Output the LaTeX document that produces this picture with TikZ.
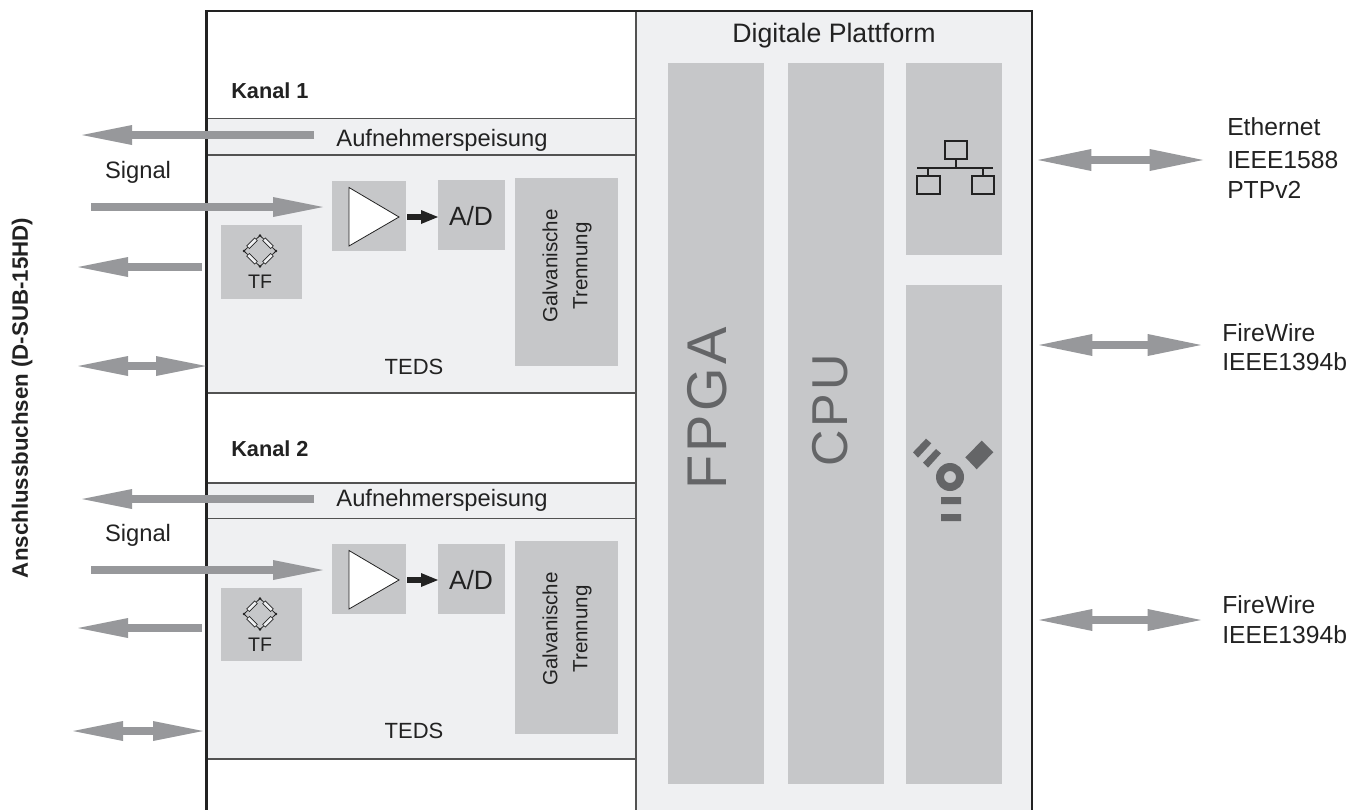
\documentclass[tikz,border=0pt]{standalone}
\usepackage{fontspec}
\setmainfont{Liberation Sans}
\usetikzlibrary{arrows.meta}
\definecolor{panel}{HTML}{EFF0F2}
\definecolor{blockc}{HTML}{C6C7C9}
\definecolor{arrowc}{HTML}{97989B}
\definecolor{iconc}{HTML}{646567}
\definecolor{txt}{HTML}{222222}
\newcommand\sz[1]{\fontsize{#1}{#1}\selectfont}
\newcommand\blk[5]{\node[blockbox,minimum width={(#4-#2)*0.75pt},minimum height={(#5-#3)*0.75pt}] (#1) at (#2,#3) {};}
\tikzset{
 x=0.75pt,y=-0.75pt,
 blockbox/.style={fill=blockc,draw=none,inner sep=0,outer sep=0,anchor=north west},
 lab/.style={inner sep=0,text=txt,anchor=base,font=\sz{17.8}},
 sidelab/.style={lab,anchor=base west,font=\sz{18.5}},
 kanal/.style={lab,anchor=base west,font=\bfseries\sz{16.3}},
 gal/.style={inner sep=0,text=txt,text width=100pt,align=center,rotate=90,font=\fontsize{15.4}{22.5}\selectfont},
 bigt/.style={inner sep=0,text=iconc,rotate=90},
 lhead/.tip={Triangle[length=37.5pt,width=15pt,line width=0pt,fill=arrowc]},
 rhead/.tip={Triangle[length=40pt,width=16.5pt,line width=0pt,fill=arrowc]},
 flow/.style={draw=arrowc,line width=6pt,-lhead},
 flowtwo/.style={draw=arrowc,line width=6pt,lhead-lhead},
 flowext/.style={draw=arrowc,line width=6pt,rhead-rhead},
 conv/.style={draw=txt,line width=4.5pt,-{Triangle[length=12.75pt,width=10.5pt,line width=0pt,fill=txt]}},
 rule/.style={draw=black!68,line width=1.1pt},
 res/.style={draw=txt,fill=panel,line width=.5pt,minimum width=8.5pt,minimum height=2.8pt,inner sep=0},
}
\newcommand\bridge[2]{%
 \begin{scope}[shift={(#1,#2)}]
 \draw[txt,line width=.6pt] (0,-15.5) -- (16,0) -- (0,15.5) -- (-16,0) -- cycle;
 \fill[txt] (0,-15.5) circle (1pt) (16,0) circle (1pt) (0,15.5) circle (1pt) (-16,0) circle (1pt);
 \node[res,rotate=-45] at (8,-7.75) {};
 \node[res,rotate=45] at (-8,-7.75) {};
 \node[res,rotate=45] at (8,7.75) {};
 \node[res,rotate=-45] at (-8,7.75) {};
 \end{scope}}
\begin{document}
\begin{tikzpicture}
\useasboundingbox (0,0) rectangle (1364,810);
\fill[white] (0,0) rectangle (1364,810);
% panels
\fill[panel] (636,11) rectangle (1032,810);
\fill[panel] (207,118) rectangle (636,393);
\fill[panel] (207,483) rectangle (636,759);
% digital blocks
\blk{fpga}{668}{63}{764}{784}
\blk{cpu}{788}{63}{884}{784}
\blk{net}{906}{63}{1002}{255}
\blk{fw}{906}{285}{1002}{784}
% channel 1
\blk{ampA}{332}{181}{406}{251}
\blk{adA}{438}{180}{505}{250}
\blk{galA}{515}{178}{618}{366}
\blk{tfA}{221}{225}{302}{299}
% channel 2
\blk{ampB}{332}{544}{406}{614}
\blk{adB}{438}{544}{505}{614}
\blk{galB}{515}{541}{618}{734}
\blk{tfB}{221}{588}{302}{661}
% rules
\draw[rule] (207,118.5) -- (636,118.5);
\draw[rule] (207,155) -- (636,155);
\draw[rule] (207,393) -- (636,393);
\draw[rule] (207,483) -- (636,483);
\draw[rule] (207,518.5) -- (636,518.5);
\draw[rule] (207,759) -- (636,759);
\draw[rule] (636,11) -- (636,810);
\draw[draw=txt,line width=1.9pt] (206.5,810) -- (206.5,11) -- (1032,11) -- (1032,810);
% amplifiers
\foreach \d in {0,363}{
 \draw[fill=white,draw=txt,line width=.6pt] (349,187.5+\d) -- (349,246+\d) -- (399,217+\d) -- cycle;
}
\coordinate (aoA) at (407,217); \coordinate (aiA) at (438,217);
\coordinate (aoB) at (407,580); \coordinate (aiB) at (438,580);
\draw[conv] (aoA) -- (aiA);
\draw[conv] (aoB) -- (aiB);
\bridge{260}{251}
\bridge{260}{614}
% labels
\node[lab,font=\sz{20}] (dp) at (834,42) {Digitale Plattform};
\node[kanal] (kanalA) at (231,98) {Kanal 1};
\node[kanal] (kanalB) at (231,456) {Kanal 2};
\node[lab] (aufA) at (442,146) {Aufnehmerspeisung};
\node[lab] (aufB) at (442,506) {Aufnehmerspeisung};
\node[lab] (sigA) at (138,178) {Signal};
\node[lab] (sigB) at (138,541) {Signal};
\node[lab,font=\sz{19.8}] (adtA) at (471,225) {A/D};
\node[lab,font=\sz{19.8}] (adtB) at (471,589) {A/D};
\node[gal] (gtA) at (567,266) {Galvanische\\Trennung};
\node[gal] (gtB) at (567,629) {Galvanische\\Trennung};
\node[lab,font=\sz{14.7}] (tfa) at (260,288) {TF};
\node[lab,font=\sz{14.7}] (tfb) at (260,651) {TF};
\node[lab,font=\sz{16.5}] (tedsA) at (414,374) {TEDS};
\node[lab,font=\sz{16.5}] (tedsB) at (414,738) {TEDS};
\node[bigt,font=\sz{42}\addfontfeature{LetterSpace=6}] (fpgat) at (707,408.5) {FPGA};
\node[bigt,font=\sz{37.8}\addfontfeature{LetterSpace=6}] (cput) at (830,410.5) {CPU};
\node[inner sep=0,text=txt,font=\bfseries\sz{16.7},rotate=90] (ans) at (22,398) {Anschlussbuchsen (D-SUB-15HD)};
\node[sidelab] (e1) at (1227,135) {Ethernet};
\node[sidelab] (e2) at (1227,168) {IEEE1588};
\node[sidelab] (e3) at (1227,198) {PTPv2};
\node[sidelab] (f1) at (1222,341) {FireWire};
\node[sidelab] (f2) at (1222,370) {IEEE1394b};
\node[sidelab] (g1) at (1222,613) {FireWire};
\node[sidelab] (g2) at (1222,643) {IEEE1394b};
% connectors
\coordinate (a1) at (314,135); \coordinate (a1e) at (82,135);
\coordinate (a2) at (91,207); \coordinate (a2e) at (323,207);
\coordinate (a3) at (202,267); \coordinate (a3e) at (78,267);
\coordinate (a4) at (78,366); \coordinate (a4e) at (206,366);
\coordinate (b1) at (314,499); \coordinate (b1e) at (82,499);
\coordinate (b2) at (91,570); \coordinate (b2e) at (323,570);
\coordinate (b3) at (202,628); \coordinate (b3e) at (78,628);
\coordinate (b4) at (73,731); \coordinate (b4e) at (203,731);
\coordinate (r1) at (1038,160); \coordinate (r1e) at (1203,160);
\coordinate (r2) at (1039,345); \coordinate (r2e) at (1201,345);
\coordinate (r3) at (1039,620); \coordinate (r3e) at (1201,620);
\draw[flow] (a1) -- (a1e);
\draw[flow] (a2) -- (a2e);
\draw[flow] (a3) -- (a3e);
\draw[flowtwo] (a4) -- (a4e);
\draw[flow] (b1) -- (b1e);
\draw[flow] (b2) -- (b2e);
\draw[flow] (b3) -- (b3e);
\draw[flowtwo] (b4) -- (b4e);
\draw[flowext] (r1) -- (r1e);
\draw[flowext] (r2) -- (r2e);
\draw[flowext] (r3) -- (r3e);
% network icon
\draw[txt,line width=1.3pt] (945,141) rectangle (967,159) (917,176) rectangle (940,194) (972,176) rectangle (994,194);
\draw[txt,line width=1.3pt] (917,168) -- (993,168) (956,159) -- (956,168) (928,168) -- (928,176) (983,168) -- (983,176);
% firewire icon
\fill[iconc,even odd rule] (950,477) circle (10.5pt) circle (4.5pt);
\fill[iconc] (941,497) rectangle (961,504) (941,514) rectangle (961,521);
\fill[iconc] (981.7,440.7) -- (993.3,452.3) -- (976.7,469.3) -- (965.3,457.3) -- cycle;
\fill[iconc] (926,438.7) -- (931.3,443.3) -- (918,457.7) -- (913,452.3) -- cycle;
\fill[iconc] (936,449) -- (941,453.3) -- (928,467.7) -- (923,462.7) -- cycle;
\end{tikzpicture}
\end{document}
